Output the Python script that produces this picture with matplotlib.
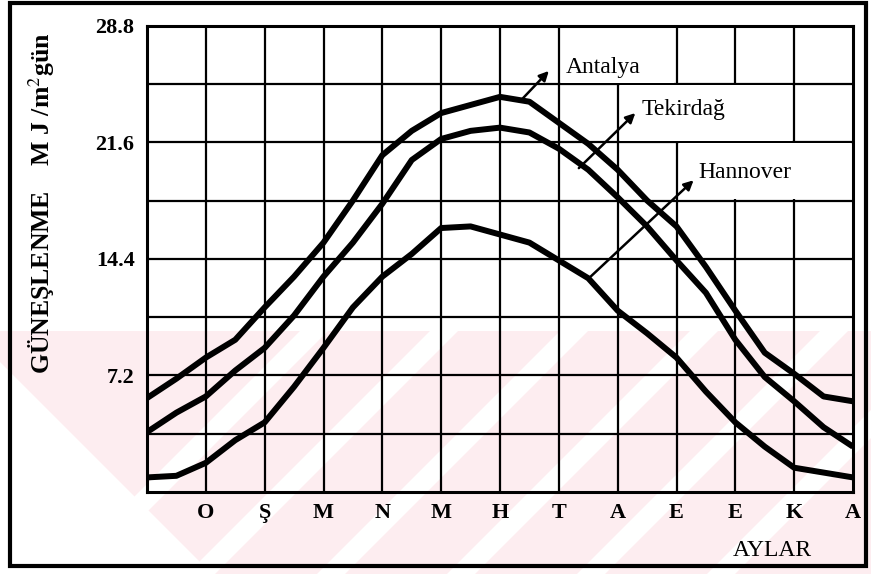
import numpy as np
import matplotlib.pyplot as plt
from matplotlib.patches import Rectangle, Polygon

plt.rcParams['font.family'] = ['Liberation Serif', 'DejaVu Serif']
plt.rcParams['mathtext.fontset'] = 'stix'

# month positions (half-month steps) and readings, MJ/m2 gün
ay = [0, 0.5, 1, 1.5, 2, 2.5, 3, 3.5, 4, 4.5, 5, 5.5, 6,
      6.5, 7, 7.5, 8, 8.5, 9, 9.5, 10, 10.5, 11, 11.5, 12]
antalya = [5.8, 7.0, 8.3, 9.4, 11.4, 13.3, 15.4, 18.0, 20.8, 22.3, 23.4, 23.9, 24.4,
           24.1, 22.8, 21.5, 19.9, 18.0, 16.4, 13.9, 11.2, 8.6, 7.3, 5.9, 5.6]
tekirdag = [3.7, 4.9, 5.9, 7.5, 8.9, 10.9, 13.3, 15.4, 17.8, 20.5, 21.8, 22.3, 22.5,
            22.2, 21.2, 19.9, 18.2, 16.4, 14.3, 12.3, 9.4, 7.1, 5.6, 4.0, 2.8]
hannover = [0.9, 1.0, 1.8, 3.2, 4.3, 6.5, 8.9, 11.4, 13.3, 14.7, 16.3, 16.4, 15.9,
            15.4, 14.3, 13.2, 11.2, 9.8, 8.3, 6.2, 4.3, 2.8, 1.5, 1.2, 0.9]

ay_harf = ['O', 'Ş', 'M', 'N', 'M', 'H', 'T', 'A', 'E', 'E', 'K', 'A']
ay_tick = [1, 2, 3, 4, 5, 6, 7, 8, 9, 10, 11, 12]
y_grid = [3.6, 7.2, 10.8, 14.4, 18.0, 21.6, 25.2]
y_tick = [7.2, 14.4, 21.6, 28.8]

W, H = 871, 574
fig = plt.figure(figsize=(W/100, H/100), dpi=100)


def fp(pts):
    return [(x/W, 1-y/H) for x, y in pts]


# faint pink watermark of the scanned page
fig.patches.append(Polygon(fp([(0, 331), (W, 331), (W, H), (0, H)]),
                           transform=fig.transFigure, facecolor='#fdedf0',
                           edgecolor='none', zorder=-3))
fig.patches.append(Polygon(fp([(0, 362), (0, H), (212, H)]),
                           transform=fig.transFigure, facecolor='white',
                           edgecolor='none', zorder=-2))
for x0 in [300, 430, 560, 690, 820, 950]:
    fig.patches.append(Polygon(fp([(x0, 331), (x0+28, 331), (x0+28-243, H), (x0-243, H)]),
                               transform=fig.transFigure, facecolor='white',
                               edgecolor='none', zorder=-2))

ax = fig.add_axes([147/W, 1-492/H, 706/W, (492-25.6)/H])
ax.patch.set_alpha(0)

for x in ay_tick[:-1]:
    ax.axvline(x, color='k', lw=1.6, zorder=1)
for y in y_grid:
    ax.axhline(y, color='k', lw=1.6, zorder=1)

# white boxes behind the city names (hide the inner grid lines)
for x0, y0, w in [(7, 25.2, 2), (8, 21.6, 3), (9, 18.0, 3)]:
    ax.add_patch(Rectangle((x0+0.04, y0+0.08), w-0.08, 3.6-0.16,
                           facecolor='white', edgecolor='none', zorder=1.5))

for seri in [antalya, tekirdag, hannover]:
    ax.plot(ay, seri, color='k', lw=4.3, solid_joinstyle='round',
            solid_capstyle='butt', zorder=3)

ok = dict(arrowstyle='-|>', color='k', lw=1.8, mutation_scale=14, shrinkA=0, shrinkB=0)
ax.annotate('', xy=(6.83, 26.0), xytext=(6.36, 24.2), arrowprops=ok, zorder=4)
ax.annotate('', xy=(8.3, 23.4), xytext=(7.34, 20.0), arrowprops=ok, zorder=4)
ax.annotate('', xy=(9.29, 19.25), xytext=(7.54, 13.3), arrowprops=ok, zorder=4)
ax.text(7.12, 26.2, 'Antalya', fontsize=17, va='center', ha='left', zorder=4)
ax.text(8.4, 23.6, 'Tekirdağ', fontsize=17, va='center', ha='left', zorder=4)
ax.text(9.38, 19.75, 'Hannover', fontsize=17, va='center', ha='left', zorder=4)

ax.set_xlim(0, 12)
ax.set_ylim(0, 28.8)
ax.set_xticks(ay_tick)
ax.set_xticklabels(ay_harf, fontsize=16, fontweight='bold')
ax.set_yticks(y_tick)
ax.set_yticklabels(['7.2', '14.4', '21.6', '28.8'], fontsize=16, fontweight='bold')
ax.tick_params(length=0)
ax.tick_params(axis='x', pad=8)
ax.tick_params(axis='y', pad=9)
for s in ax.spines.values():
    s.set_linewidth(2.2)

fig.text(772/W, 1-551/H, 'AYLAR', fontsize=17, ha='center', va='center')
fig.text(42/W, 1-203/H, r'GÜNEŞLENME    M J /m$^{2}$gün', fontsize=18.5,
         fontweight='bold', rotation=90, ha='center', va='center')

fig.patches.append(Rectangle((10/W, 1-566/H), 856/W, 563/H,
                             transform=fig.transFigure, fill=False,
                             edgecolor='k', lw=3))

fig.savefig('out.png', dpi=100)
